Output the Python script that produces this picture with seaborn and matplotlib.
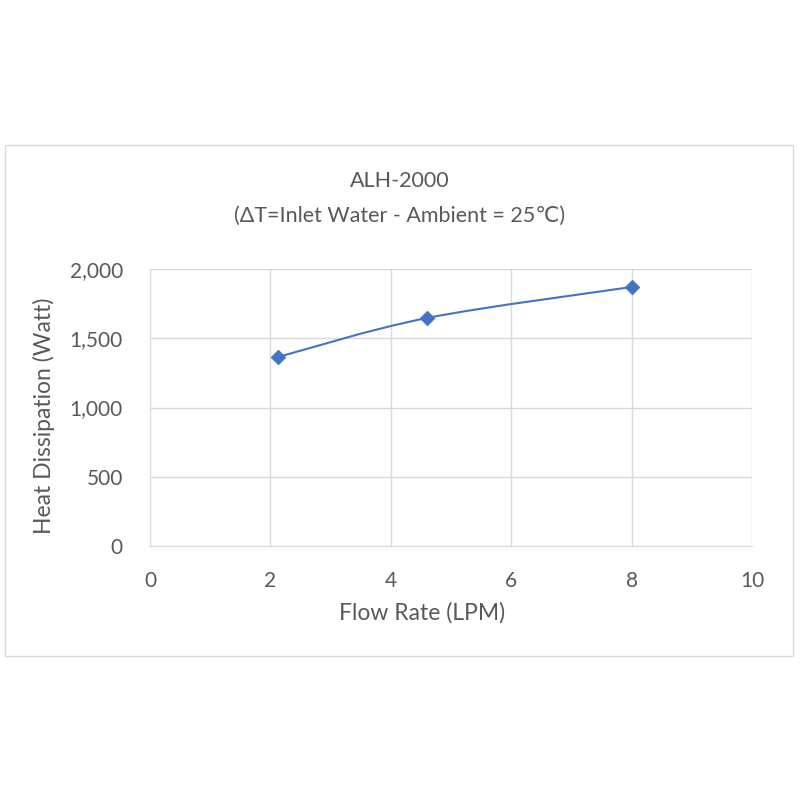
import numpy as np
import matplotlib
matplotlib.use("Agg")
import matplotlib.pyplot as plt
import seaborn as sns
from matplotlib.path import Path
from matplotlib.patches import PathPatch, Rectangle

# data
flow_rate = [2.13, 4.6, 8.0]
heat_watt = [1365, 1646, 1870]
x_ticks = [0, 2, 4, 6, 8, 10]
y_ticks = [0, 500, 1000, 1500, 2000]

sns.set_style("white")
plt.rcParams['font.family'] = ['Lato', 'DejaVu Sans']

txt_col = '#595959'
line_col = '#4472c4'

fig = plt.figure(figsize=(8, 8), dpi=100)
ax = fig.add_axes([150 / 800, 1 - 546 / 800, 602 / 800, 277 / 800])

# outer chart frame
fig.patches.append(Rectangle((5 / 800, 1 - 656 / 800), 788 / 800, 511 / 800,
                             transform=fig.transFigure, fill=False,
                             edgecolor='#d9d9d9', linewidth=1))

# smoothed line (catmull-rom style bezier through the points, like Excel)
xs = np.array(flow_rate, dtype=float)
ys = np.array(heat_watt, dtype=float)
verts = [(xs[0], ys[0])]
codes = [Path.MOVETO]
n = len(xs)
for i in range(n - 1):
    p0 = (xs[i - 1], ys[i - 1]) if i > 0 else (xs[i], ys[i])
    p1 = (xs[i], ys[i])
    p2 = (xs[i + 1], ys[i + 1])
    p3 = (xs[i + 2], ys[i + 2]) if i + 2 < n else p2
    c1 = (p1[0] + (p2[0] - p0[0]) / 6, p1[1] + (p2[1] - p0[1]) / 6)
    c2 = (p2[0] - (p3[0] - p1[0]) / 6, p2[1] - (p3[1] - p1[1]) / 6)
    verts += [c1, c2, p2]
    codes += [Path.CURVE4] * 3
ax.add_patch(PathPatch(Path(verts, codes), fill=False, edgecolor=line_col,
                       linewidth=1.5, zorder=3))

sns.scatterplot(x=flow_rate, y=heat_watt, ax=ax, marker='D', s=55,
                color=line_col, edgecolor=line_col, zorder=4)

ax.set_xlim(0, 10)
ax.set_ylim(0, 2000)
ax.set_xticks(x_ticks)
ax.set_yticks(y_ticks)
ax.set_yticklabels([f"{v:,}" for v in y_ticks])
ax.grid(True, color='#d9d9d9', linewidth=1)
for side in ['top', 'right', 'left']:
    ax.spines[side].set_visible(False)
ax.spines['bottom'].set_color('#d9d9d9')
ax.tick_params(axis='both', length=0, labelsize=15, colors=txt_col)
ax.tick_params(axis='x', pad=18)
ax.tick_params(axis='y', pad=19.5)
ax.set_xlabel('')
ax.set_ylabel('')

# axis titles
fig.text(422 / 800, 1 - 620 / 800, 'Flow Rate (LPM)', ha='center', va='baseline',
         fontsize=16.5, color=txt_col)
fig.text(44 / 800, 1 - 416 / 800, 'Heat Dissipation (Watt)', ha='center',
         va='center', rotation=90, fontsize=16.5, color=txt_col)

# chart title
fig.text(0.5, 1 - 187 / 800, 'ALH-2000', ha='center', va='baseline',
         fontsize=15.5, color=txt_col)
fig.text(0.5, 1 - 222 / 800, '(ΔT=Inlet Water - Ambient = 25℃)', ha='center',
         va='baseline', fontsize=15.5, color=txt_col)

fig.savefig('out.png', dpi=100, facecolor='white')
